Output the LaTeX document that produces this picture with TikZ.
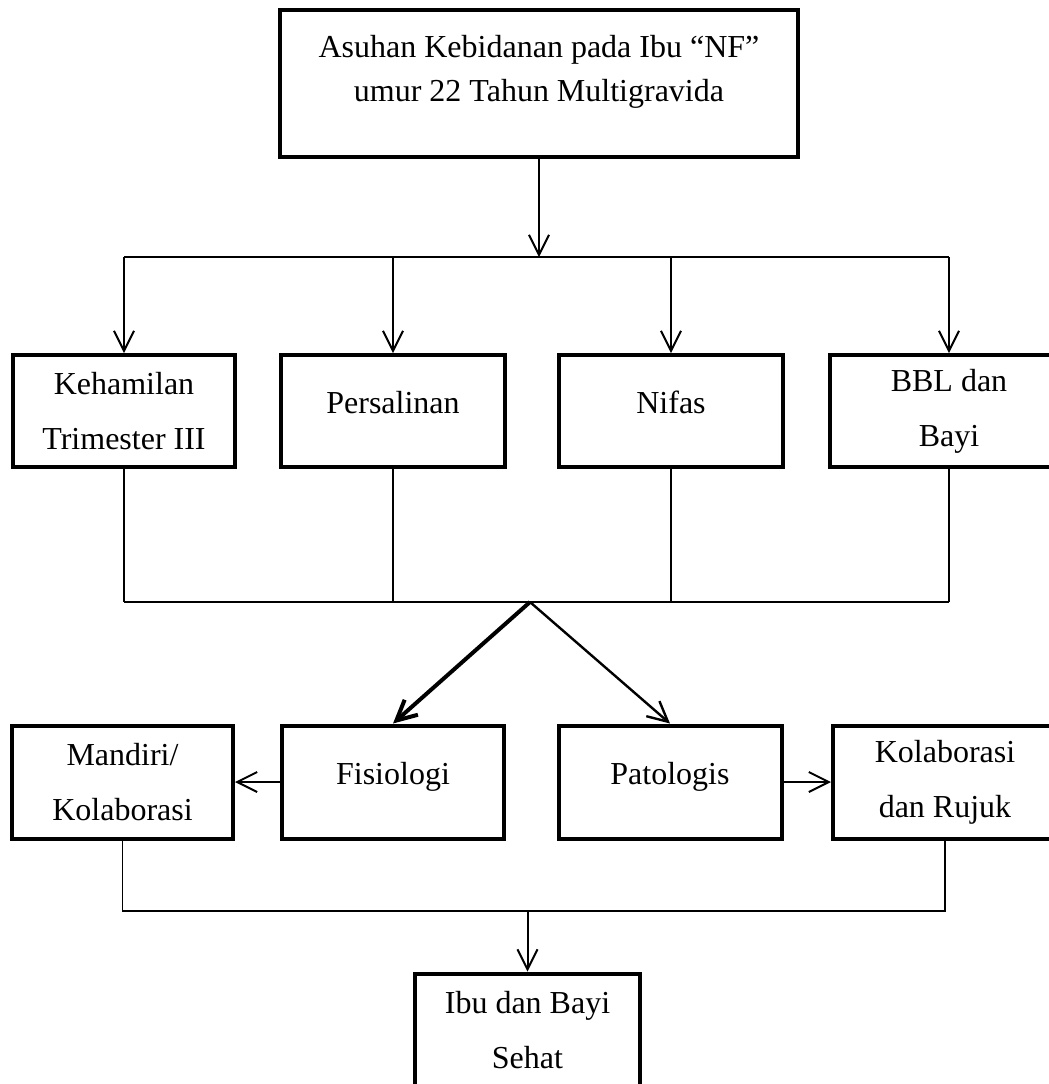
\documentclass[tikz,border=0pt]{standalone}
\usepackage{fontspec}
\setmainfont{Liberation Serif}
\usetikzlibrary{arrows.meta}

\tikzset{
  kotak/.style={draw, line width=2pt, align=center, inner sep=0pt,
    font=\fontsize{16}{27.5}\selectfont},
  satubaris/.style={text height=11pt, text depth=9pt},
  garis/.style={line width=0.75pt},
  panah/.style={line width=1pt, -{Straight Barb[length=10pt,width=10pt]}},
}

\begin{document}
\begin{tikzpicture}[x=0.5pt, y=-0.5pt]
\useasboundingbox (0,0) rectangle (1049,1084);
% judul
\node[kotak, minimum width=259pt, minimum height=73.5pt,
  font=\fontsize{16}{22}\selectfont] (asuhan) at (539,83.5)
  {Asuhan Kebidanan pada Ibu “NF”\\umur 22 Tahun Multigravida\rule[-15.5pt]{0pt}{15.5pt}};
% baris kedua
\node[kotak, minimum width=111pt, minimum height=56pt] (hamil) at (124,411) {Kehamilan\\Trimester III};
\node[kotak, satubaris, minimum width=112pt, minimum height=56pt] (salin) at (393,411) {Persalinan};
\node[kotak, satubaris, minimum width=112pt, minimum height=56pt] (nifas) at (671,411) {Nifas};
\node[kotak, minimum width=119pt, minimum height=56pt] (bbl) at (949,411) {BBL dan\\Bayi};
% baris ketiga
\node[kotak, minimum width=110.5pt, minimum height=56.5pt] (mandiri) at (122.5,782) {Mandiri/\\Kolaborasi};
\node[kotak, satubaris, minimum width=111pt, minimum height=56.5pt] (fisio) at (393,782) {Fisiologi};
\node[kotak, satubaris, minimum width=111.5pt, minimum height=56.5pt] (pato) at (670,782) {Patologis};
\node[kotak, minimum width=112pt, minimum height=56.5pt] (rujuk) at (945,782) {Kolaborasi\\dan Rujuk};
% hasil
\node[kotak, minimum width=112.5pt, minimum height=57pt] (sehat) at (527.5,1030.5) {Ibu dan Bayi\\Sehat};

\coordinate (cabang1) at (asuhan.south |- 0,257);
\coordinate (cabang2) at (530,602);
\coordinate (cabang3) at (sehat.north |- 0,911);

\draw[panah] (asuhan.south) -- (cabang1);
\draw[garis] (hamil.north |- cabang1) -- (bbl.north |- cabang1);
\foreach \n in {hamil,salin,nifas,bbl}
  \draw[panah] (\n.north |- cabang1) -- (\n.north);

\foreach \n in {hamil,salin,nifas,bbl}
  \draw[garis] (\n.south) -- (\n.south |- cabang2);
\draw[garis] (hamil.south |- cabang2) -- (bbl.south |- cabang2);
\draw[panah, line width=2pt] (cabang2) -- (fisio.north);
\draw[panah, line width=1.2pt] (cabang2) -- (pato.north);

\draw[panah] (fisio) -- (mandiri);
\draw[panah] (pato) -- (rujuk);

\draw[garis] (mandiri.south) -- (mandiri.south |- cabang3) -- (rujuk.south |- cabang3) -- (rujuk.south);
\draw[panah] (cabang3) -- (sehat.north);
\end{tikzpicture}
\end{document}
